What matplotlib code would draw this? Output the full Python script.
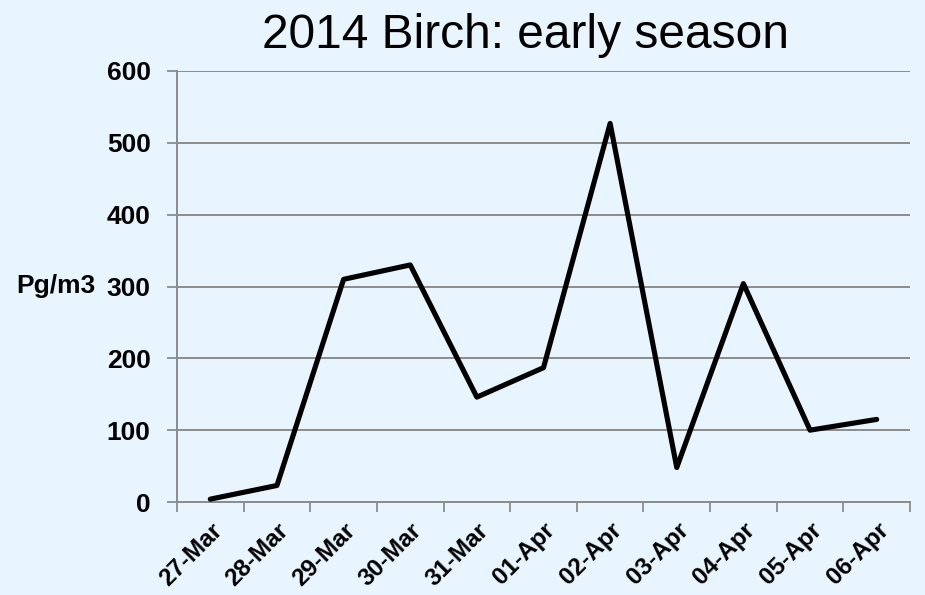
import numpy as np
import matplotlib
matplotlib.use('Agg')
import matplotlib.pyplot as plt

# Data
days = ['27-Mar', '28-Mar', '29-Mar', '30-Mar', '31-Mar', '01-Apr',
        '02-Apr', '03-Apr', '04-Apr', '05-Apr', '06-Apr']
pollen = [4, 23, 310, 330, 146, 187, 527, 48, 304, 100, 115]
yticks = [0, 100, 200, 300, 400, 500, 600]

bg = '#E8F5FE'
grey = '#8C8C8C'

plt.rcParams['font.family'] = ['Liberation Sans', 'DejaVu Sans']

fig = plt.figure(figsize=(9.25, 5.95), dpi=100, facecolor=bg)
ax = fig.add_axes([177 / 925, 1 - 502 / 595, 733 / 925, 431 / 595], facecolor=bg)

x = np.arange(len(days))
ax.plot(x, pollen, color='black', linewidth=3.7, solid_joinstyle='round',
        solid_capstyle='round', zorder=3)

ax.set_xlim(-0.5, len(days) - 0.5)
ax.set_ylim(yticks[0], yticks[-1])

# category boundaries get tick marks, labels sit at category centres
ax.set_xticks(np.arange(-0.5, len(days)), labels=[])
ax.set_xticks(x, minor=True)
ax.set_xticklabels(days, minor=True, rotation=45, ha='right', va='top',
                   rotation_mode='anchor', fontsize=17.5, fontweight='bold')
ax.tick_params(axis='x', which='major', length=7, width=1.3, color=grey, direction='out')
ax.tick_params(axis='x', which='minor', length=0, pad=12)

ax.set_yticks(yticks)
ax.set_yticklabels([str(v) for v in yticks], fontsize=19, fontweight='bold')
ax.tick_params(axis='y', length=7, width=1.3, color=grey, direction='out', pad=12)
ax.grid(axis='y', color=grey, linewidth=1.4)
ax.set_axisbelow(True)

for side in ['top', 'right']:
    ax.spines[side].set_visible(False)
for side in ['left', 'bottom']:
    ax.spines[side].set_color(grey)
    ax.spines[side].set_linewidth(1.4)

ax.set_ylabel('Pg/m3', rotation=0, fontsize=19, fontweight='bold', ha='right', va='center')
ax.yaxis.set_label_coords(-0.111, 0.5)

fig.text(526 / 925, 1 - 35 / 595, '2014 Birch: early season', fontsize=34.5,
         ha='center', va='center')

fig.savefig('out.png', dpi=100, facecolor=bg)
